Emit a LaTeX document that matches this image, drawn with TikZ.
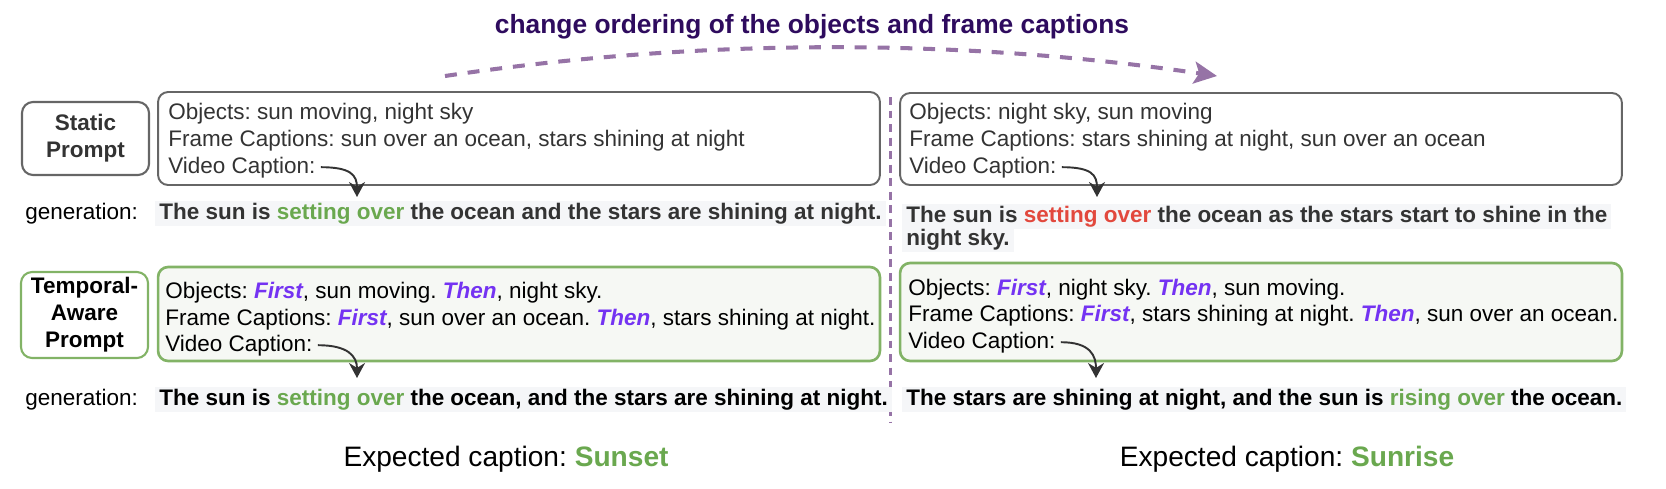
\documentclass[tikz,border=0pt]{standalone}
\usepackage{fontspec}
\setmainfont{Liberation Sans}
\usetikzlibrary{arrows.meta}
\frenchspacing

\definecolor{inkgrey}{HTML}{333333}
\definecolor{boxgrey}{HTML}{666666}
\definecolor{genbg}{HTML}{F5F6F8}
\definecolor{tagreen}{HTML}{82B366}
\definecolor{tafill}{HTML}{F6F8F4}
\definecolor{okgreen}{HTML}{6AA84F}
\definecolor{badred}{HTML}{E2483D}
\definecolor{ordviolet}{HTML}{7433F2}
\definecolor{headpurple}{HTML}{2E0B5E}
\definecolor{arcpurple}{HTML}{9673A6}

\newcommand{\seqword}[1]{\textcolor{ordviolet}{\bfseries\itshape #1}}
\newcommand{\goodpart}[1]{\textcolor{okgreen}{#1}}
\newcommand{\badpart}[1]{\textcolor{badred}{#1}}

\begin{document}
\begin{tikzpicture}[x=0.02cm, y=-0.02cm,
  font=\fontsize{12.8}{15.4}\selectfont,
  tagbox/.style={draw=#1, line width=1.2pt, rounded corners=0.22cm, minimum width=2.54cm,
    align=center, font=\fontsize{12.8}{15.4}\selectfont\bfseries, inner sep=0pt},
  pbox/.style={draw=boxgrey, line width=1.1pt, rounded corners=0.2cm, minimum width=14.44cm, inner sep=0pt},
  tbox/.style={pbox, draw=tagreen, line width=1.5pt, fill=tafill},
  pline/.style={anchor=base west, inner sep=0pt},
  genlab/.style={anchor=base west, inner sep=0pt},
  genline/.style={anchor=base west, inner xsep=0.08cm, inner ysep=0pt, fill=genbg,
    text height=0.36cm, text depth=0.14cm, font=\fontsize{12.8}{15.4}\selectfont\bfseries},
  capar/.style={-{Stealth[length=0.3cm, width=0.32cm]}, draw=inkgrey, line width=1.1pt},
  ordar/.style={-{Stealth[length=0.46cm, width=0.44cm, inset=0.1cm]}, draw=arcpurple,
    line width=2.3pt, dash pattern=on 6.8pt off 6.2pt},
  divline/.style={draw=arcpurple, line width=1.7pt, dash pattern=on 4.5pt off 3.2pt},
  expect/.style={anchor=base, font=\fontsize{16}{19}\selectfont},
]
  \useasboundingbox (0,0) rectangle (1666,488);

  % title and reordering arc
  \node[anchor=base, font=\fontsize{15}{18}\selectfont\bfseries, text=headpurple] (head) at (812,33)
    {change ordering of the objects and frame captions};
  \coordinate (arcL) at (445,76);
  \coordinate (arcR) at (1217,76);
  \draw[ordar] (arcL) .. controls (700,38) and (960,38) .. (arcR);

  % divider
  \coordinate (divT) at (890,97);
  \coordinate (divB) at (890,422);
  \draw[divline] (divT) -- (divB);

  % static prompt
  \node[tagbox=boxgrey, text=inkgrey, minimum height=1.46cm] (static) at (85.5,138.5) {Static\\Prompt};
  \node[pbox, minimum height=1.86cm] (boxA) at (519,138.5) {};
  \node[pbox, minimum height=1.84cm] (boxB) at (1261,139) {};

  \node[pline, text=inkgrey] (objA) at (168,119) {Objects: sun moving, night sky};
  \node[pline, text=inkgrey] (frmA) at (168,146) {Frame Captions: sun over an ocean, stars shining at night};
  \node[pline, text=inkgrey] (vcA) at (168,173) {Video Caption:};

  \node[pline, text=inkgrey] (objB) at (909,119) {Objects: night sky, sun moving};
  \node[pline, text=inkgrey] (frmB) at (909,146) {Frame Captions: stars shining at night, sun over an ocean};
  \node[pline, text=inkgrey] (vcB) at (909,173) {Video Caption:};

  % static generations
  \node[genlab] (genlabA) at (25,219) {generation:};
  \node[genline, text=inkgrey] (genA) at (155,219)
    {The sun is \goodpart{setting over} the ocean and the stars are shining at night.};
  \node[genline, text=inkgrey] (genB1) at (902,222)
    {The sun is \badpart{setting over} the ocean as the stars start to shine in the};
  \node[genline, text=inkgrey] (genB2) at (902,245) {night sky.};

  \coordinate (tipA) at (357,197);
  \coordinate (tipB) at (1097,197);
  \draw[capar] ([xshift=0.1cm]vcA.east) .. controls +(30,0) and +(0,-22) .. (tipA);
  \draw[capar] ([xshift=0.1cm]vcB.east) .. controls +(30,0) and +(0,-22) .. (tipB);

  % temporal-aware prompt
  \node[tagbox=tagreen, minimum height=1.72cm] (temporal) at (84.5,315) {Temporal-\\Aware\\Prompt};
  \node[tbox, minimum height=1.88cm] (boxC) at (519,314) {};
  \node[tbox, minimum height=1.96cm] (boxD) at (1261,312) {};

  \node[pline] (objC) at (165,298) {Objects: \seqword{First}, sun moving. \seqword{Then}, night sky.};
  \node[pline] (frmC) at (165,325)
    {Frame Captions: \seqword{First}, sun over an ocean. \seqword{Then}, stars shining at night.};
  \node[pline] (vcC) at (165,351) {Video Caption:};

  \node[pline] (objD) at (908,295) {Objects: \seqword{First}, night sky. \seqword{Then}, sun moving.};
  \node[pline] (frmD) at (908,321)
    {Frame Captions: \seqword{First}, stars shining at night. \seqword{Then}, sun over an ocean.};
  \node[pline] (vcD) at (908,348) {Video Caption:};

  % temporal generations
  \node[genlab] (genlabC) at (25,405) {generation:};
  \node[genline] (genC) at (155,405)
    {The sun is \goodpart{setting over} the ocean, and the stars are shining at night.};
  \node[genline] (genD) at (902,405)
    {The stars are shining at night, and the sun is \goodpart{rising over} the ocean.};

  \coordinate (tipC) at (357,378);
  \coordinate (tipD) at (1096,378);
  \draw[capar] ([xshift=0.1cm]vcC.east) .. controls +(30,0) and +(0,-22) .. (tipC);
  \draw[capar] ([xshift=0.1cm]vcD.east) .. controls +(30,0) and +(0,-22) .. (tipD);

  % expected captions
  \node[expect] (expA) at (506,466) {Expected caption: \textcolor{okgreen}{\bfseries Sunset}};
  \node[expect] (expB) at (1287,466) {Expected caption: \textcolor{okgreen}{\bfseries Sunrise}};
\end{tikzpicture}
\end{document}
